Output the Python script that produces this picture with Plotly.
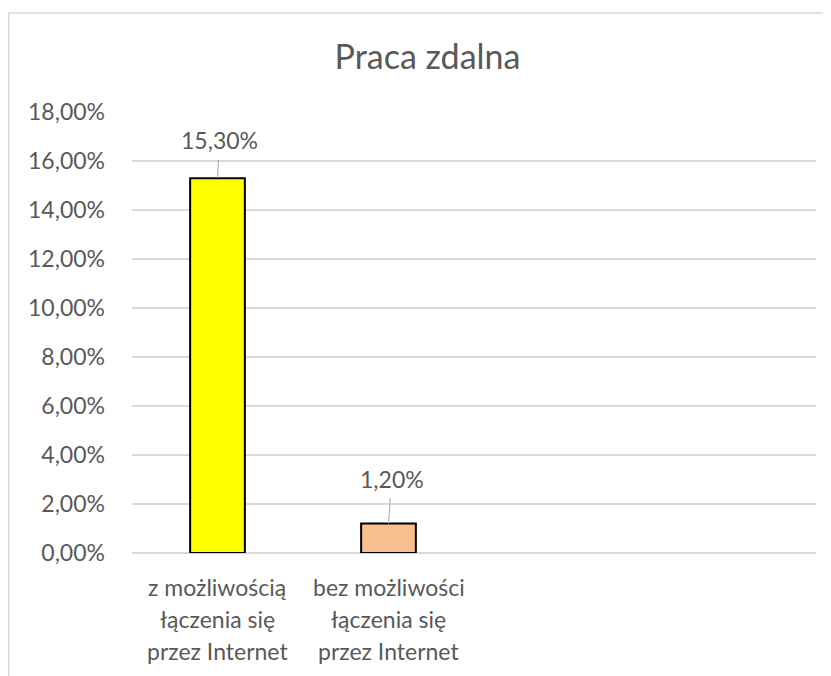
import plotly.graph_objects as go

# ---- data ----
categories = [
    ["z możliwością", "łączenia się", "przez Internet"],
    ["bez możliwości", "łączenia się", "przez Internet"],
]
values = [0.153, 0.012]
bar_colors = ["#FFFF00", "#F8BF8E"]
title_text = "Praca zdalna"
y_ticks = [0, 0.02, 0.04, 0.06, 0.08, 0.10, 0.12, 0.14, 0.16, 0.18]

# ---- layout constants (page body has an 8px margin) ----
W, H = 823, 668
L, R, T, B = 124, 15, 104, 123
FONT = "Lato, Calibri, sans-serif"
TXT = "#595959"
GRID = "#D9D9D9"

x_pos = list(range(len(values)))

fig = go.Figure()
fig.add_trace(go.Bar(
    x=x_pos, y=values, width=0.32,
    marker=dict(color=bar_colors, line=dict(color="#000000", width=2)),
    hoverinfo="skip",
))

annotations = []
# data labels with leader lines
label_offsets = [(2, -38), (3, -45)]
for i, v in enumerate(values):
    txt = f"{v*100:.2f}%".replace(".", ",")
    ax, ay = label_offsets[i]
    annotations.append(dict(
        x=x_pos[i], y=v, xref="x", yref="y", text=txt,
        showarrow=True, arrowhead=0, arrowwidth=1, arrowcolor="#A6A6A6",
        ax=ax, ay=ay, standoff=0, startstandoff=4,
        font=dict(family=FONT, size=23, color=TXT),
    ))
# category labels (three lines each)
line_shifts = [-34, -66, -98]
for i, lines in enumerate(categories):
    for j, ln in enumerate(lines):
        annotations.append(dict(
            x=x_pos[i], y=0, xref="x", yref="paper", text=ln,
            showarrow=False, yanchor="middle", xanchor="center",
            yshift=line_shifts[j],
            font=dict(family=FONT, size=23, color=TXT),
        ))

pw = W - L - R
ph = H - T - B
bx0 = (0.5 - L) / pw
by0 = (H - B - 5) / ph
by1 = (H - B - H) / ph
shapes = [
    dict(type="line", xref="paper", yref="paper", x0=bx0, x1=(W - L) / pw,
         y0=by0, y1=by0, line=dict(color=GRID, width=1.5)),
    dict(type="line", xref="paper", yref="paper", x0=bx0, x1=bx0,
         y0=by0, y1=by1, line=dict(color=GRID, width=2)),
]

fig.update_layout(
    width=W, height=H,
    margin=dict(l=L, r=R, t=T, b=B, autoexpand=False),
    paper_bgcolor="white", plot_bgcolor="white",
    separators=", ",
    showlegend=False,
    title=dict(text=title_text, x=419.5 / W, xanchor="center",
               y=1 - 49.5 / H, yanchor="middle",
               font=dict(family=FONT, size=34, color=TXT)),
    xaxis=dict(range=[-0.5, 3.5], showticklabels=False, showgrid=False,
               zeroline=False, showline=False, fixedrange=True),
    yaxis=dict(range=[0, 0.18], tickvals=y_ticks, tickformat=".2%",
               showgrid=True, gridcolor=GRID, gridwidth=1.5,
               zeroline=True, zerolinecolor=GRID, zerolinewidth=1.5,
               showline=False, ticklabelstandoff=26,
               tickfont=dict(family=FONT, size=23, color=TXT)),
    annotations=annotations,
    shapes=shapes,
)

fig.write_html("out.html")
